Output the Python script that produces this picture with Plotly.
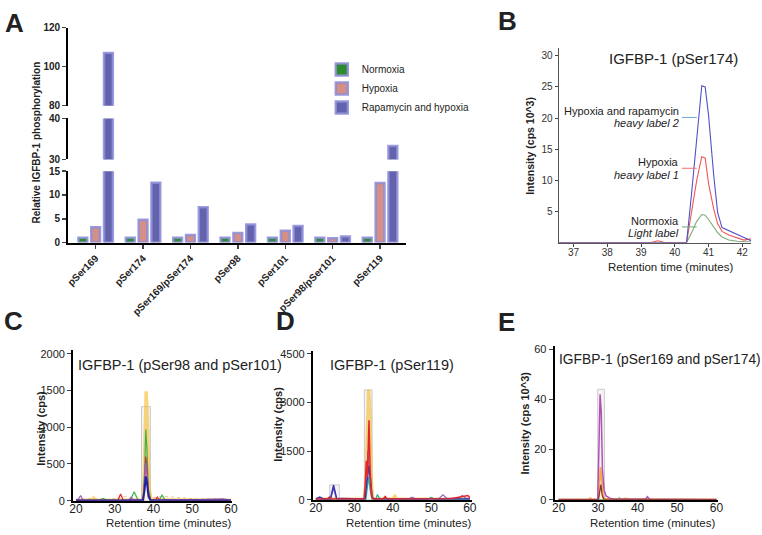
import plotly.graph_objects as go

W, H = 762, 535
FONT = "Liberation Sans, Arial, sans-serif"

# ---------------- Panel A data ----------------
sites = ["pSer169", "pSer174", "pSer169/pSer174", "pSer98", "pSer101", "pSer98/pSer101", "pSer119"]
normoxia = [1.0, 1.0, 1.0, 1.0, 1.0, 1.0, 1.0]
hypoxia = [3.2, 4.8, 1.6, 2.0, 2.5, 0.9, 12.5]
rapamycin_hypoxia = [107.0, 12.6, 7.4, 3.8, 3.5, 1.3, 33.3]
series_names = ["Normoxia", "Hypoxia", "Rapamycin and hypoxia"]
series_fill = ["#2e8b2e", "#d48f88", "#6363ad"]

# ---------------- Panel B data ----------------
B_t = [36.56, 38.5, 39.3, 39.5, 39.7, 40.35, 40.5, 40.65, 40.8, 40.9, 41.0, 41.15, 41.27, 41.4, 41.6, 41.85, 42.05, 42.26]
B_blue = [0, 0, 0, 0, 0, 0, 8, 17, 25.2, 25.0, 20.5, 11, 4.8, 2.4, 1.9, 1.4, 0.9, 0.3]
B_red = [0, 0, 0, 0.3, 0, 0, 5, 10, 13.8, 13.6, 9.5, 5.5, 3.0, 1.8, 1.2, 0.8, 0.4, 0.6]
B_green = [0, 0, 0, 0, 0, 0, 1.6, 3.4, 4.5, 4.4, 3.7, 2.6, 1.6, 0.9, 0.4, 0.2, 0.1, 0.1]

# ---------------- Panel C data ----------------
C_yellow_t = [20, 24, 24.5, 25, 30, 37.2, 37.6, 37.9, 38.1, 38.4, 38.8, 39.3, 45, 60]
C_yellow_y = [5, 5, 35, 5, 5, 10, 300, 1300, 1490, 1100, 200, 15, 8, 5]
C_green_t = [20, 26, 27, 28, 34, 35, 36, 37.3, 37.7, 38.0, 38.3, 38.7, 39.3, 41.5, 42.2, 43, 60]
C_green_y = [5, 5, 30, 5, 5, 120, 10, 10, 400, 970, 700, 150, 10, 10, 75, 10, 5]
C_red_t = [20, 30.8, 31.5, 32.2, 37.3, 37.7, 38.0, 38.3, 38.7, 39.3, 40.5, 41, 41.5, 60]
C_red_y = [5, 5, 90, 5, 10, 250, 600, 450, 100, 10, 10, 50, 10, 5]
C_purple_t = [20, 20.6, 21.2, 21.8, 33.5, 34.2, 35, 37.3, 37.7, 38.0, 38.3, 38.8, 39.3, 50, 58, 60]
C_purple_y = [5, 20, 70, 5, 5, 40, 10, 10, 300, 520, 350, 60, 10, 10, 25, 5]
C_blue_t = [20, 37.3, 37.7, 38.0, 38.3, 38.7, 39.2, 60]
C_blue_y = [3, 5, 150, 330, 250, 60, 5, 3]
C_orange_t = [20, 24, 28, 31, 33, 36, 40, 42, 46, 52, 56, 60]
C_orange_y = [10, 30, 10, 40, 60, 30, 40, 60, 40, 20, 30, 10]
C_band = [36.9, 39.2, 1280]

# ---------------- Panel D data ----------------
D_yellow_t = [20, 32.6, 33.0, 33.4, 33.7, 34.0, 34.4, 34.8, 40, 40.5, 41, 60]
D_yellow_y = [10, 20, 500, 2600, 3400, 2800, 600, 20, 20, 100, 20, 10]
D_red_t = [20, 23, 23.5, 24, 32.5, 32.8, 33.1, 33.4, 33.8, 34.1, 34.5, 35, 37.5, 38, 38.5, 55, 59.5, 60]
D_red_y = [20, 20, 80, 20, 20, 400, 1200, 700, 2450, 900, 100, 20, 20, 100, 20, 30, 130, 60]
D_purple_t = [20, 23.8, 24.6, 25.4, 32.8, 33.2, 33.5, 33.9, 34.4, 35, 44, 45, 46, 52, 53, 54, 57, 58, 59, 60]
D_purple_y = [15, 20, 350, 20, 20, 600, 1500, 800, 150, 20, 20, 80, 20, 40, 150, 40, 40, 130, 40, 30]
D_blue_t = [20, 21, 22, 23.8, 24.6, 25.4, 27, 32.8, 33.2, 33.5, 33.8, 34.2, 34.6, 35, 60]
D_blue_y = [20, 80, 20, 20, 450, 30, 40, 20, 500, 800, 1050, 600, 100, 20, 20]
D_green_t = [20, 33.0, 33.4, 33.7, 34.1, 34.6, 35.5, 36, 36.6, 49, 50, 51, 60]
D_green_y = [10, 10, 400, 700, 300, 10, 10, 160, 10, 10, 70, 10, 10]
D_bands = [[23.6, 26.1, 460], [32.6, 34.6, 3390]]

# ---------------- Panel E data ----------------
E_purple_t = [20, 29.9, 30.2, 30.5, 30.8, 31.1, 31.5, 32, 33, 34, 42, 42.5, 43, 60]
E_purple_y = [0.1, 0.1, 20, 42, 35, 12, 4, 1.5, 0.6, 0.2, 0.2, 1.2, 0.2, 0.1]
E_orange_t = [20, 27.5, 28, 28.6, 30.0, 30.3, 30.6, 30.9, 31.3, 31.8, 36, 37, 38, 60]
E_orange_y = [0.1, 0.1, 0.6, 0.1, 0.1, 5, 13, 6, 1, 0.2, 0.2, 0.5, 0.1, 0.1]
E_brown_t = [20, 30.1, 30.4, 30.7, 31.0, 31.4, 60]
E_brown_y = [0, 0, 3, 6, 2, 0.2, 0]
E_green_t = [20, 34.8, 35.4, 36, 60]
E_green_y = [0, 0, 0.9, 0, 0]
E_band = [29.9, 31.6, 44]


def px_x(p):
    return p / W


def px_y(p):
    return 1 - p / H


fig = go.Figure()

# ---------- Panel A bars (three stacked y-axes for broken axis) ----------
values = [normoxia, hypoxia, rapamycin_hypoxia]
for yax in ["y", "y2", "y3"]:
    for name, vals, col in zip(series_names, values, series_fill):
        fig.add_trace(go.Bar(
            x=sites, y=vals, name=name, xaxis="x", yaxis=yax,
            marker=dict(color=col, line=dict(color="rgba(140,140,215,0.85)", width=2.5)),
            showlegend=(yax == "y"), legendgroup=name, hoverinfo="skip",
        ))

# ---------- Panel B ----------
for ys, col in [(B_green, "#7fa878"), (B_red, "#f05555"), (B_blue, "#5050c8")]:
    fig.add_trace(go.Scatter(x=B_t, y=ys, mode="lines", xaxis="x2", yaxis="y4",
                             line=dict(color=col, width=1.1), showlegend=False, hoverinfo="skip"))


def add_chrom(tt, yy, xa, ya, col, w, dash="solid"):
    fig.add_trace(go.Scatter(x=tt, y=yy, mode="lines", xaxis=xa, yaxis=ya,
                             line=dict(color=col, width=w, dash=dash),
                             showlegend=False, hoverinfo="skip"))


YEL = "rgba(245,185,40,0.6)"
# ---------- Panel C ----------
add_chrom(C_orange_t, C_orange_y, "x3", "y5", "rgba(240,150,40,0.6)", 1, "dot")
add_chrom(C_yellow_t, C_yellow_y, "x3", "y5", YEL, 3.5)
add_chrom(C_green_t, C_green_y, "x3", "y5", "#3cb44b", 1.2)
add_chrom(C_red_t, C_red_y, "x3", "y5", "#e3262b", 1.2)
add_chrom(C_purple_t, C_purple_y, "x3", "y5", "#9a5fc4", 1.2)
add_chrom(C_blue_t, C_blue_y, "x3", "y5", "#20209a", 2)

# ---------- Panel D ----------
add_chrom(D_yellow_t, D_yellow_y, "x4", "y6", YEL, 3.5)
add_chrom(D_green_t, D_green_y, "x4", "y6", "#2fae8a", 1.2)
add_chrom(D_purple_t, D_purple_y, "x4", "y6", "#9a5fc4", 1.2)
add_chrom(D_blue_t, D_blue_y, "x4", "y6", "#3535b5", 1.5)
add_chrom(D_red_t, D_red_y, "x4", "y6", "#e3262b", 1.5)

# ---------- Panel E ----------
add_chrom(E_green_t, E_green_y, "x5", "y7", "#3cb44b", 1)
add_chrom(E_orange_t, E_orange_y, "x5", "y7", "rgba(245,150,30,0.8)", 1.8)
add_chrom(E_purple_t, E_purple_y, "x5", "y7", "#b050b8", 1.5)
add_chrom(E_brown_t, E_brown_y, "x5", "y7", "#8b2f1f", 1.2)

# gray highlight bands
shapes = []
for xa, ya, band in [("x3", "y5", C_band), ("x4", "y6", D_bands[0]), ("x4", "y6", D_bands[1]), ("x5", "y7", E_band)]:
    shapes.append(dict(type="rect", xref=xa, yref=ya, x0=band[0], x1=band[1], y0=0, y1=band[2],
                       fillcolor="rgba(200,200,200,0.18)", line=dict(color="rgba(190,190,190,0.8)", width=1),
                       layer="below"))

# B connector lines
for yp, col in [(114, "#6fa8dc"), (166, "#f07070"), (226, "#70a870")]:
    shapes.append(dict(type="line", xref="paper", yref="paper", x0=px_x(687), x1=px_x(702),
                       y0=px_y(yp), y1=px_y(yp), line=dict(color=col, width=1)))

common_ax = dict(showgrid=False, zeroline=False, showline=True, linecolor="black", mirror=False)
bold_tick = dict(family=FONT, size=10, color="#222", weight="bold")
xtick_font = dict(family=FONT, size=12, color="#222")

layout = dict(
    width=W, height=H, margin=dict(l=0, r=0, t=0, b=0, pad=0),
    paper_bgcolor="white", plot_bgcolor="white",
    font=dict(family=FONT, color="#222"),
    barmode="group", bargap=0.19, bargroupgap=0.31,
    showlegend=True, hovermode=False,
    legend=dict(x=px_x(322), y=px_y(50), xanchor="left", yanchor="top",
                font=dict(family=FONT, size=10, color="#222"), bgcolor="rgba(0,0,0,0)",
                itemwidth=30, tracegroupgap=0),
    # Panel A
    xaxis=dict(**common_ax, domain=[px_x(65), px_x(407)], anchor="y", type="category",
               range=[-0.58, 6.54], linewidth=2, ticks="outside", ticklen=4, tickwidth=1.5,
               tickangle=-45, tickfont=bold_tick),
    yaxis=dict(**common_ax, domain=[px_y(242), px_y(169)], anchor="x", range=[0, 15],
               tickvals=[0, 5, 10, 15], linewidth=2, ticks="outside", ticklen=4, tickwidth=1.5,
               tickfont=bold_tick),
    yaxis2=dict(**common_ax, domain=[px_y(157), px_y(115)], anchor="x", range=[30, 40],
                tickvals=[30, 40], linewidth=2, ticks="outside", ticklen=4, tickwidth=1.5,
                tickfont=bold_tick),
    yaxis3=dict(**common_ax, domain=[px_y(102), px_y(22)], anchor="x", range=[80, 120],
                tickvals=[80, 100, 120], linewidth=2, ticks="outside", ticklen=4, tickwidth=1.5,
                tickfont=bold_tick),
    # Panel B
    xaxis2=dict(showgrid=False, zeroline=False, showline=True, linecolor="#555",
                domain=[px_x(562), px_x(757)], anchor="y4", range=[36.56, 42.26],
                tickvals=[37, 38, 39, 40, 41, 42], linewidth=1, ticks="outside", ticklen=3,
                ticklabelstandoff=-3, tickfont=dict(family=FONT, size=10, color="#333")),
    yaxis4=dict(showgrid=False, zeroline=False, showline=True, linecolor="#555",
                domain=[px_y(242), px_y(43)], anchor="x2", range=[0, 31.24],
                tickvals=[5, 10, 15, 20, 25, 30], linewidth=1, ticks="outside", ticklen=3,
                tickfont=dict(family=FONT, size=10, color="#333")),
    # Panel C
    xaxis3=dict(**common_ax, domain=[px_x(70), px_x(231)], anchor="y5", range=[19.24, 60.25],
                tickvals=[20, 30, 40, 50, 60], linewidth=2, ticks="", ticklabelstandoff=-4,
                tickfont=xtick_font),
    yaxis5=dict(**common_ax, domain=[px_y(506), px_y(352)], anchor="x3", range=[0, 2050],
                tickvals=[0, 500, 1000, 1500, 2000], linewidth=2, ticks="outside", ticklen=4,
                tickfont=dict(family=FONT, size=11, color="#222")),
    # Panel D
    xaxis4=dict(**common_ax, domain=[px_x(313), px_x(474)], anchor="y6", range=[19.23, 60.5],
                tickvals=[20, 30, 40, 50, 60], linewidth=2, ticks="", ticklabelstandoff=-4,
                tickfont=xtick_font),
    yaxis6=dict(**common_ax, domain=[px_y(505), px_y(353)], anchor="x4", range=[0, 4590],
                tickvals=[0, 1500, 3000, 4500], linewidth=2, ticks="outside", ticklen=4,
                tickfont=dict(family=FONT, size=11, color="#222")),
    # Panel E
    xaxis5=dict(**common_ax, domain=[px_x(558), px_x(723)], anchor="y7", range=[19, 60.25],
                tickvals=[20, 30, 40, 50, 60], linewidth=2, ticks="", ticklabelstandoff=-4,
                tickfont=xtick_font),
    yaxis7=dict(**common_ax, domain=[px_y(505), px_y(348)], anchor="x5", range=[0, 61.2],
                tickvals=[0, 20, 40, 60], linewidth=2, ticks="outside", ticklen=4,
                tickfont=dict(family=FONT, size=11, color="#222")),
    shapes=shapes,
)


def ann(text, xp, yp, size, xanchor="center", angle=0, color="#222"):
    return dict(text=text, x=px_x(xp), y=px_y(yp), xref="paper", yref="paper", showarrow=False,
                xanchor=xanchor, yanchor="middle", textangle=angle,
                font=dict(family=FONT, size=size, color=color))


annotations = [
    ann("<b>A</b>", 11, 17, 26),
    ann("<b>B</b>", 510, 15, 26),
    ann("<b>C</b>", 10, 322, 26),
    ann("<b>D</b>", 285, 322, 26),
    ann("<b>E</b>", 509, 323, 26),
    ann("<b>Relative IGFBP-1 phosphorylation</b>", 33, 140, 10, angle=-90),
    ann("IGFBP-1 (pSer174)", 611, 54, 15, xanchor="left"),
    ann("<b>Intensity (cps 10^3)</b>", 533, 143, 10.5, angle=-90),
    ann("Retention time (minutes)", 675, 266.5, 11.5),
    ann("Hypoxia and rapamycin", 686, 107, 11, xanchor="right"),
    ann("<i>heavy label 2</i>", 686, 120, 11, xanchor="right"),
    ann("Hypoxia", 686, 160, 11, xanchor="right"),
    ann("<i>heavy label 1</i>", 686, 173, 11, xanchor="right"),
    ann("Normoxia", 686, 220, 11, xanchor="right"),
    ann("<i>Light label</i>", 686, 232, 11, xanchor="right"),
    ann("IGFBP-1 (pSer98 and pSer101)", 73, 367, 14.5, xanchor="left"),
    ann("<b>Intensity (cps)</b>", 38, 432, 11, angle=-90),
    ann("Retention time (minutes)", 167, 528.5, 11.5),
    ann("IGFBP-1 (pSer119)", 328, 367, 14.5, xanchor="left"),
    ann("<b>Intensity (cps)</b>", 278, 428, 11, angle=-90),
    ann("Retention time (minutes)", 410, 528.5, 11.5),
    ann("IGFBP-1 (pSer169 and pSer174)", 560, 362, 13.8, xanchor="left"),
    ann("<b>Intensity (cps 10^3)</b>", 528, 427, 11, angle=-90),
    ann("Retention time (minutes)", 657, 528.5, 11.5),
]
layout["annotations"] = annotations

fig.update_layout(**layout)
fig.write_html("out.html", config={"displayModeBar": False, "staticPlot": True},
               post_script="document.body.style.margin='0';document.body.style.overflow='hidden';")
